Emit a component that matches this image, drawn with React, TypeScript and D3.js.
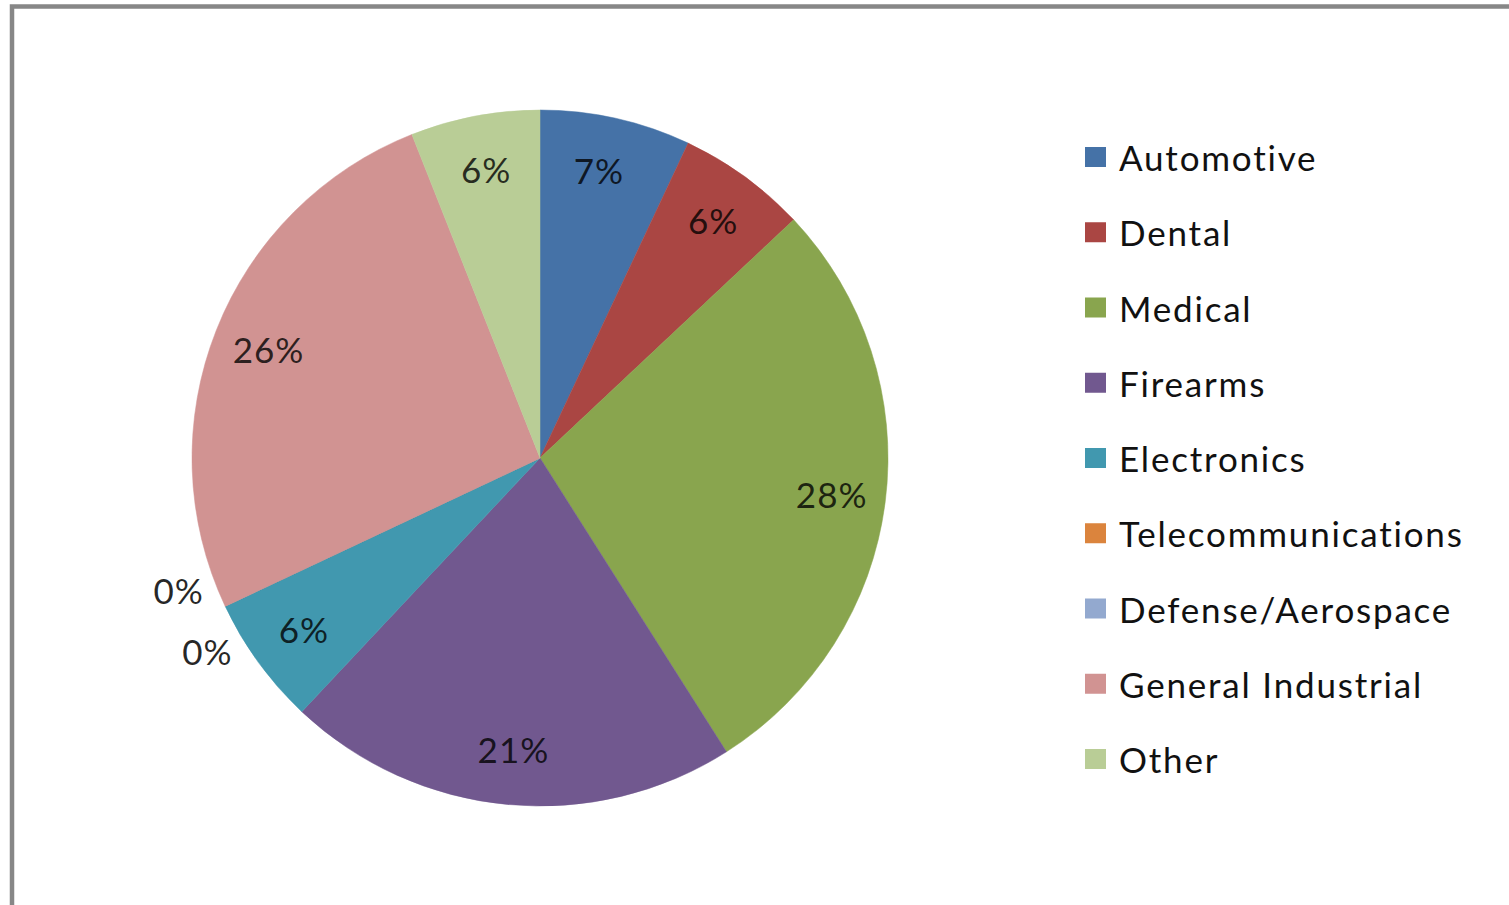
import React from "react";
import * as d3 from "d3";

const categories = [
  "Automotive",
  "Dental",
  "Medical",
  "Firearms",
  "Electronics",
  "Telecommunications",
  "Defense/Aerospace",
  "General Industrial",
  "Other",
];
const values = [7, 6, 28, 21, 6, 0, 0, 26, 6];
const colors = [
  "#4572A7",
  "#AA4643",
  "#89A54E",
  "#71588F",
  "#4198AF",
  "#DB843D",
  "#93A9CF",
  "#D19392",
  "#B9CD96",
];
// label angular nudges (degrees); zero-size slices are placed outside
const labelNudge = [-1.2, 0, 0, 0, 0, 5, -5, 0, 0];

const W = 1509;
const H = 905;
const cx = 540;
const cy = 458;
const R = 348;
const FONT = "Lato, 'Open Sans', sans-serif";

export default function App() {
  const pie = d3
    .pie<number>()
    .sort(null)
    .value((d) => d);
  const arcs = pie(values);
  const arc = d3.arc<d3.PieArcDatum<number>>().innerRadius(0).outerRadius(R);
  const total = d3.sum(values);

  const legendY = d3
    .scaleLinear()
    .domain([0, categories.length - 1])
    .range([157, 759]);

  return (
    <svg
      width={W}
      height={H}
      style={{ position: "absolute", left: 0, top: 0, display: "block", background: "#fff" }}
    >
      <rect x={0} y={0} width={W} height={H} fill="#fff" />
      <path d={`M12,${H + 10} V6.5 H${W + 10}`} fill="none" stroke="#878787" strokeWidth={4.5} />
      <g transform={`translate(${cx},${cy})`}>
        {arcs.map((a, i) => (
          <path key={i} d={arc(a) || ""} fill={colors[i]} stroke={colors[i]} strokeWidth={0.5} />
        ))}
        {arcs.map((a, i) => {
          const zero = a.value === 0;
          const mid = (a.startAngle + a.endAngle) / 2 + (labelNudge[i] * Math.PI) / 180;
          const r = zero ? 386 : 293;
          const x = r * Math.sin(mid);
          const y = -r * Math.cos(mid);
          const pct = Math.round((a.value / total) * 100) + "%";
          return (
            <text
              key={"l" + i}
              x={x + 1}
              y={y - 1}
              textAnchor="middle"
              dominantBaseline="central"
              fontFamily={FONT}
              fontSize={35}
              letterSpacing={1}
              fill="#000"
              fillOpacity={zero ? 0.85 : 0.8}
            >
              {pct}
            </text>
          );
        })}
      </g>
      <g>
        {categories.map((c, i) => (
          <g key={c} transform={`translate(1085,${legendY(i)})`}>
            <rect x={0} y={-10} width={21} height={20} fill={colors[i]} />
            <text
              x={34}
              y={0}
              dominantBaseline="central"
              fontFamily={FONT}
              fontSize={35}
              letterSpacing={1.8}
              fill="#111"
            >
              {c}
            </text>
          </g>
        ))}
      </g>
    </svg>
  );
}
